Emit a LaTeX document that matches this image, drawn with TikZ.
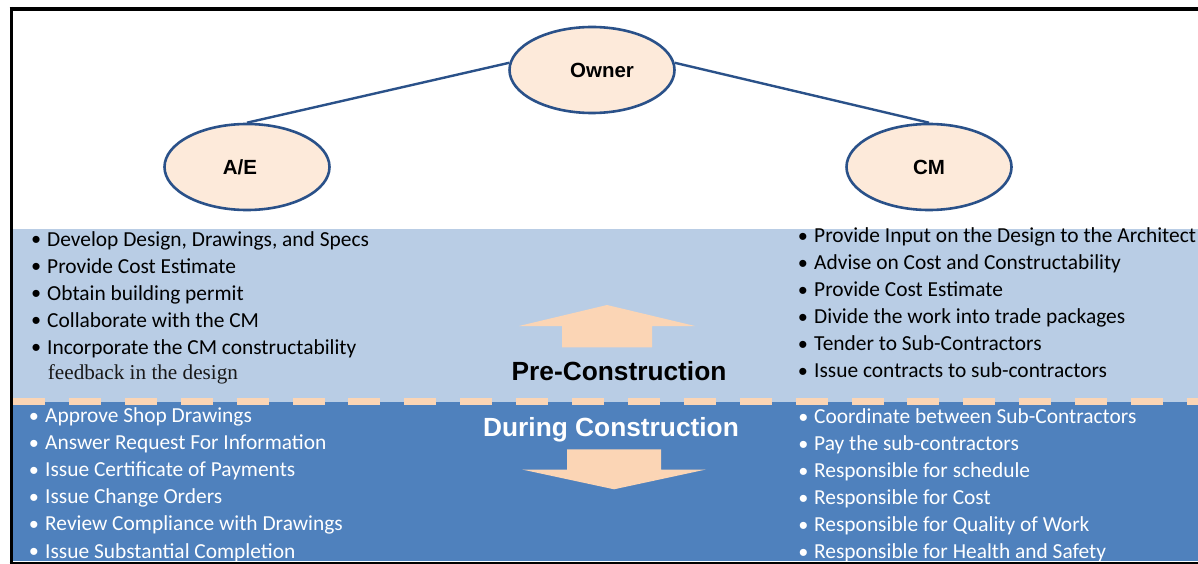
\documentclass[tikz,border=0pt]{standalone}
\usepackage{fontspec}
\setmainfont{Carlito}
\newfontfamily\arialf{Liberation Sans}
\newfontfamily\timesf{Liberation Serif}
\usetikzlibrary{shapes.geometric}
\definecolor{lightblue}{HTML}{B9CDE5}
\definecolor{darkblue}{HTML}{4F81BD}
\definecolor{peach}{HTML}{FBD5B5}
\definecolor{ellfill}{HTML}{FDEADA}
\definecolor{ellline}{HTML}{2A5189}
\tikzset{
  ell/.style={ellipse, draw=ellline, line width=2.6pt, fill=ellfill,
    minimum width=165pt, minimum height=86pt, inner sep=0pt},
  lbl/.style={font=\arialf\bfseries\fontsize{20.5}{24}\selectfont, inner sep=0pt},
  conn/.style={draw=ellline, line width=2.4pt},
  item/.style={font=\fontsize{21.4}{27}\selectfont, inner sep=0pt, anchor=base west},
  bul/.style={font=\arialf\fontsize{26}{27}\selectfont, inner sep=0pt, anchor=base, yshift=-2.4pt},
  phase/.style={font=\arialf\bfseries\fontsize{26.3}{30}\selectfont, inner sep=0pt, anchor=base},
  arr/.style={fill=peach, draw=none},
}
\begin{document}
\begin{tikzpicture}[x=1pt,y=-1pt]
\useasboundingbox (0,0) rectangle (1198,564);
\fill[white] (0,0) rectangle (1198,564);
% bands
\fill[lightblue] (13,229) rectangle (1198,402);
\fill[darkblue] (13,402) rectangle (1198,561);
\draw[peach, line width=7pt, dash pattern=on 32pt off 23.9pt] (13,401.5) -- (1198,401.5);
% frame
\draw[black, line width=3.6pt] (9.5,8.8) -- (1198,8.8);
\draw[black, line width=3.6pt] (11.3,7) -- (11.3,563);
\draw[black, line width=2pt] (9.5,562.5) -- (1198,562.5);
% ellipses
\node[ell, label={[lbl, xshift=10pt]center:Owner}] (owner) at (592,70) {};
\node[ell, label={[lbl, xshift=-7pt]center:A/E}] (ae) at (247,167) {};
\node[ell, label={[lbl]center:CM}] (cm) at (929,167) {};
\draw[conn] (owner.175) -- (ae.north);
\draw[conn] (owner.5) -- (cm.north);
% arrows
\fill[arr] (519,326) -- (607,305) -- (695,326) -- (652,326) -- (652,347.3) -- (562,347.3) -- (562,326) -- cycle;
\fill[arr] (567,449.3) -- (661,449.3) -- (661,469.5) -- (706,469.5) -- (614,489.3) -- (522,469.5) -- (567,469.5) -- cycle;
% phase titles
\node[phase, text=black] (pre) at (619,380) {Pre-Construction};
\node[phase, text=white] (during) at (611,436.7) {During Construction};
% A/E pre-construction
\foreach \t [count=\i] in {{Develop Design, Drawings, and Specs},{Provide Cost Estimate},{Obtain building permit},{Collaborate with the CM},{Incorporate the CM constructability}}{
  \node[item] (lt\i) at (47,{246+27*(\i-1)}) {\t};
  \node[bul] (ltb\i) at (36.3,{246+27*(\i-1)}) {•};
}
\node[item, font=\timesf\fontsize{21.2}{27}\selectfont, text=black!90] (lt6) at (47.7,379.3) {feedback in the design};
% CM pre-construction
\foreach \t [count=\i] in {{Provide Input on the Design to the Architect},{Advise on Cost and Constructability},{Provide Cost Estimate},{Divide the work into trade packages},{Tender to Sub-Contractors},{Issue contracts to sub-contractors}}{
  \node[item] (rt\i) at (814,{242.8+27*(\i-1)}) {\t};
  \node[bul] (rtb\i) at (803,{242.8+27*(\i-1)}) {•};
}
% A/E during construction
\foreach \t [count=\i] in {{Approve Shop Drawings},{Answer Request For Information},{Issue Certificate of Payments},{Issue Change Orders},{Review Compliance with Drawings},{Issue Substantial Completion}}{
  \node[item, text=white] (lb\i) at (45,{422.7+27.07*(\i-1)}) {\t};
  \node[bul, text=white] (lbb\i) at (34,{422.7+27.07*(\i-1)}) {•};
}
% CM during construction
\foreach \t [count=\i] in {{Coordinate between Sub-Contractors},{Pay the sub-contractors},{Responsible for schedule},{Responsible for Cost},{Responsible for Quality of Work},{Responsible for Health and Safety}}{
  \node[item, text=white] (rb\i) at (814,{423.6+27*(\i-1)}) {\t};
  \node[bul, text=white] (rbb\i) at (803.3,{423.6+27*(\i-1)}) {•};
}
\end{tikzpicture}
\end{document}
